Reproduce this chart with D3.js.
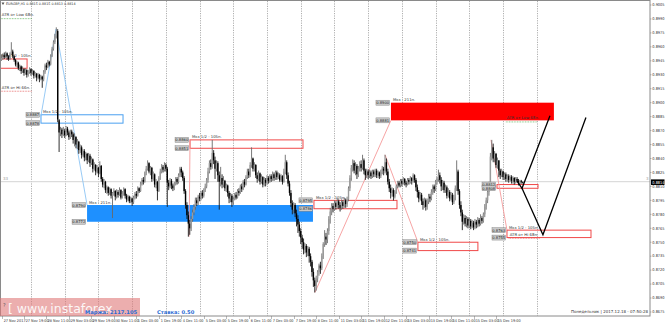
<!DOCTYPE html>
<html><head><meta charset="utf-8">
<script src="https://cdn.jsdelivr.net/npm/d3@7"></script>
<style>html,body{margin:0;padding:0;background:#fff;overflow:hidden}svg{display:block}</style>
</head><body><svg id="c" width="665" height="324"></svg>
<script>
const firstOpen = 0.8946;
const closes = [
0.8948,0.8951,0.8949,0.8953,0.8950,0.8947,0.8952,0.8955,0.8950,0.8946,
0.8941,0.8943,0.8937,0.8939,0.8934,0.8936,0.8932,0.8935,0.8930,0.8933,
0.8936,0.8932,0.8934,0.8929,0.8931,0.8927,0.8930,0.8926,0.8928,0.8925,
0.8933,0.8940,0.8938,0.8944,0.8941,0.8950,0.8958,0.8965,0.8972,0.8977,
0.8882,0.8868,
0.8871,0.8866,0.8870,0.8865,0.8872,0.8868,0.8863,0.8869,0.8866,0.8860,
0.8863,0.8855,0.8858,0.8849,0.8852,0.8844,0.8848,0.8841,0.8845,0.8838,
0.8843,0.8835,0.8839,0.8829,0.8833,0.8826,0.8830,0.8824,0.8832,0.8818,
0.8812,0.8815,0.8806,0.8809,0.8803,0.8807,0.8800,0.8803,0.8805,0.8799,
0.8804,0.8801,0.8806,0.8798,0.8802,0.8807,0.8800,0.8796,0.8799,0.8794,0.8797,0.8793,
0.8798,0.8802,0.8800,0.8808,0.8805,0.8813,0.8817,0.8815,0.8824,0.8829,0.8835,
0.8826,0.8830,0.8818,0.8823,0.8812,0.8815,0.8805,
0.8819,0.8826,0.8831,0.8828,0.8833,0.8829,
0.8814,
0.8810,0.8816,0.8811,0.8808,0.8813,0.8818,0.8815,0.8822,0.8829,
0.8825,0.8819,0.8805,0.8790,0.8779,0.8770,0.8765,
0.8775,0.8782,0.8788,0.8795,0.8792,0.8799,0.8797,0.8803,0.8800,0.8806,0.8810,0.8817,
0.8826,0.8835,0.8831,0.8846,
0.8838,0.8829,0.8835,0.8822,0.8815,0.8819,0.8812,0.8816,
0.8808,0.8811,0.8803,0.8797,0.8800,0.8793,0.8796,
0.8801,0.8798,0.8805,0.8803,0.8810,0.8807,0.8815,0.8812,0.8820,0.8826,0.8822,0.8833,0.8840,
0.8829,0.8833,0.8822,0.8818,0.8824,0.8815,0.8820,0.8812,0.8817,0.8814,0.8819,
0.8816,0.8821,0.8818,0.8823,0.8819,0.8825,0.8820,0.8822,0.8817,0.8821,0.8815,0.8826,0.8836,
0.8822,0.8813,0.8803,0.8792,0.8785,0.8790,0.8781,0.8775,0.8769,0.8762,
0.8755,0.8750,0.8742,0.8746,0.8739,0.8743,0.8735,0.8729,0.8718,0.8709,0.8703,
0.8711,0.8718,0.8725,0.8722,0.8735,0.8748,0.8756,0.8753,0.8762,0.8775,0.8783,
0.8789,0.8786,0.8792,0.8788,0.8794,0.8790,0.8787,0.8793,0.8789,0.8795,0.8791,0.8796,
0.8808,0.8819,0.8830,0.8835,
0.8827,0.8832,0.8823,0.8829,0.8834,0.8830,0.8838,0.8827,0.8822,0.8826,
0.8822,0.8825,0.8821,0.8826,0.8823,0.8827,0.8822,0.8825,0.8821,0.8826,0.8829,0.8827,0.8836,
0.8826,0.8815,0.8808,0.8803,0.8806,0.8799,0.8804,0.8810,
0.8814,0.8811,0.8816,0.8813,0.8818,0.8814,0.8812,0.8817,0.8815,0.8819,0.8816,0.8822,
0.8817,0.8809,0.8804,0.8797,0.8801,0.8794,0.8790,0.8795,0.8788,
0.8794,0.8799,0.8797,0.8804,0.8810,0.8807,0.8815,0.8818,0.8822,0.8817,
0.8810,0.8814,0.8806,0.8809,0.8800,0.8804,0.8797,0.8801,0.8793,0.8798,0.8808,0.8826,
0.8805,0.8790,0.8782,0.8772,0.8776,0.8770,0.8775,0.8768,0.8773,0.8767,0.8771,0.8766,0.8772,0.8769,0.8774,0.8770,0.8776,0.8773,
0.8780,0.8788,0.8795,0.8804,0.8812,
0.8842,0.8852,
0.8840,0.8845,0.8833,0.8838,
0.8827,0.8822,0.8826,0.8820,0.8823,0.8818,0.8821,0.8817,0.8820,0.8816,0.8819,
0.8815,0.8818,0.8816,0.8813,0.8816,0.8815,0.8814];
const highs = [
0.8952,0.8953,0.8954,0.8955,0.8954,0.8951,0.8954,0.8965,0.8957,0.8951,
0.8947,0.8945,0.8944,0.8941,0.8940,0.8939,0.8937,0.8937,0.8936,0.8935,
0.8938,0.8937,0.8936,0.8935,0.8933,0.8932,0.8932,0.8931,0.8930,0.8929,
0.8935,0.8942,0.8943,0.8946,0.8945,0.8952,0.8960,0.8967,0.8974,0.8981,
0.8979,0.8880,
0.8874,0.8873,0.8874,0.8872,0.8875,0.8874,0.8870,0.8871,0.8871,0.8868,
0.8867,0.8864,0.8861,0.8859,0.8855,0.8854,0.8850,0.8850,0.8847,0.8846,
0.8846,0.8845,0.8842,0.8840,0.8836,0.8834,0.8833,0.8831,0.8837,0.8833,
0.8820,0.8818,0.8816,0.8811,0.8810,0.8809,0.8808,0.8804,0.8808,0.8806,
0.8807,0.8806,0.8809,0.8807,0.8805,0.8809,0.8808,0.8802,0.8801,0.8800,0.8799,0.8798,
0.8800,0.8804,0.8805,0.8810,0.8809,0.8815,0.8819,0.8820,0.8826,0.8832,0.8838,
0.8836,0.8832,0.8831,0.8826,0.8824,0.8818,0.8816,
0.8821,0.8829,0.8834,0.8833,0.8836,0.8835,
0.8831,
0.8817,0.8819,0.8818,0.8813,0.8815,0.8820,0.8820,0.8824,0.8831,
0.8831,0.8827,0.8821,0.8807,0.8793,0.8783,0.8774,
0.8778,0.8785,0.8791,0.8798,0.8798,0.8801,0.8803,0.8805,0.8806,0.8808,0.8813,0.8819,
0.8830,0.8838,0.8839,0.8860,
0.8849,0.8842,0.8838,0.8837,0.8826,0.8831,0.8823,0.8821,
0.8817,0.8813,0.8812,0.8805,0.8803,0.8802,0.8799,
0.8803,0.8804,0.8807,0.8808,0.8812,0.8813,0.8817,0.8818,0.8822,0.8829,0.8829,0.8836,0.8852,
0.8841,0.8836,0.8834,0.8825,0.8827,0.8825,0.8823,0.8821,0.8820,0.8819,0.8822,
0.8821,0.8823,0.8823,0.8826,0.8825,0.8827,0.8827,0.8825,0.8824,0.8823,0.8822,0.8829,0.8844,
0.8838,0.8825,0.8816,0.8806,0.8795,0.8793,0.8792,0.8785,0.8779,0.8772,
0.8765,0.8758,0.8754,0.8749,0.8748,0.8746,0.8745,0.8738,0.8731,0.8722,0.8712,
0.8714,0.8720,0.8727,0.8729,0.8738,0.8750,0.8763,0.8760,0.8765,0.8778,0.8787,
0.8792,0.8792,0.8795,0.8794,0.8797,0.8796,0.8793,0.8796,0.8795,0.8798,0.8797,0.8799,
0.8810,0.8822,0.8833,0.8839,
0.8838,0.8836,0.8834,0.8832,0.8837,0.8838,0.8844,0.8840,0.8829,0.8829,
0.8828,0.8828,0.8827,0.8828,0.8828,0.8829,0.8829,0.8827,0.8826,0.8828,0.8832,0.8831,0.8844,
0.8840,0.8829,0.8818,0.8812,0.8809,0.8808,0.8806,0.8812,
0.8816,0.8816,0.8818,0.8818,0.8820,0.8819,0.8816,0.8819,0.8819,0.8821,0.8820,0.8824,
0.8823,0.8819,0.8812,0.8806,0.8804,0.8803,0.8797,0.8798,0.8797,
0.8797,0.8802,0.8802,0.8807,0.8812,0.8812,0.8817,0.8820,0.8828,0.8825,
0.8820,0.8817,0.8816,0.8812,0.8811,0.8808,0.8806,0.8804,0.8803,0.8801,0.8811,0.8838,
0.8828,0.8807,0.8794,0.8785,0.8780,0.8779,0.8778,0.8777,0.8776,0.8775,0.8774,0.8773,0.8775,0.8774,0.8777,0.8776,0.8780,0.8778,
0.8782,0.8791,0.8798,0.8806,0.8815,
0.8846,0.8860,
0.8856,0.8848,0.8846,0.8841,
0.8838,0.8829,0.8829,0.8827,0.8825,0.8825,0.8823,0.8823,0.8822,0.8822,0.8821,
0.8820,0.8820,0.8820,0.8818,0.8817,0.8817,0.8815];
const lows = [
0.8945,0.8946,0.8947,0.8948,0.8946,0.8945,0.8946,0.8951,0.8948,0.8944,
0.8939,0.8938,0.8935,0.8934,0.8931,0.8932,0.8929,0.8930,0.8927,0.8928,
0.8931,0.8929,0.8930,0.8926,0.8927,0.8923,0.8925,0.8922,0.8924,0.8916,
0.8923,0.8931,0.8935,0.8937,0.8939,0.8940,0.8949,0.8956,0.8963,0.8969,
0.8879,0.8847,
0.8864,0.8862,0.8864,0.8862,0.8864,0.8865,0.8860,0.8861,0.8863,0.8856,
0.8853,0.8851,0.8850,0.8845,0.8846,0.8840,0.8842,0.8837,0.8838,0.8834,
0.8836,0.8831,0.8833,0.8825,0.8827,0.8822,0.8824,0.8820,0.8823,0.8815,
0.8809,0.8808,0.8803,0.8802,0.8800,0.8801,0.8797,0.8776,0.8800,0.8795,
0.8797,0.8798,0.8800,0.8796,0.8797,0.8800,0.8797,0.8793,0.8794,0.8792,0.8792,0.8789,
0.8791,0.8796,0.8797,0.8799,0.8803,0.8804,0.8811,0.8812,0.8814,0.8822,0.8827,
0.8824,0.8822,0.8815,0.8816,0.8809,0.8808,0.8795,
0.8804,0.8817,0.8824,0.8825,0.8826,0.8826,
0.8788,
0.8806,0.8808,0.8807,0.8805,0.8806,0.8811,0.8812,0.8813,0.8820,
0.8820,0.8816,0.8802,0.8786,0.8775,0.8756,0.8758,
0.8762,0.8772,0.8779,0.8785,0.8789,0.8790,0.8794,0.8795,0.8797,0.8798,0.8804,0.8808,
0.8814,0.8824,0.8828,0.8829,
0.8834,0.8818,0.8826,0.8815,0.8785,0.8810,0.8808,0.8809,
0.8805,0.8804,0.8799,0.8792,0.8793,0.8788,0.8790,
0.8795,0.8796,0.8797,0.8800,0.8802,0.8804,0.8806,0.8809,0.8811,0.8818,0.8819,0.8820,0.8830,
0.8826,0.8826,0.8819,0.8814,0.8816,0.8812,0.8813,0.8809,0.8810,0.8810,0.8812,
0.8813,0.8814,0.8815,0.8816,0.8816,0.8817,0.8817,0.8818,0.8815,0.8815,0.8812,0.8814,0.8823,
0.8818,0.8810,0.8800,0.8788,0.8780,0.8781,0.8777,0.8767,0.8760,0.8756,
0.8748,0.8743,0.8737,0.8738,0.8734,0.8735,0.8728,0.8724,0.8713,0.8702,0.8696,
0.8698,0.8707,0.8714,0.8716,0.8720,0.8732,0.8745,0.8747,0.8749,0.8758,0.8770,
0.8779,0.8782,0.8784,0.8785,0.8786,0.8786,0.8783,0.8785,0.8786,0.8787,0.8787,0.8788,
0.8794,0.8805,0.8816,0.8826,
0.8824,0.8822,0.8818,0.8820,0.8826,0.8826,0.8828,0.8823,0.8817,0.8819,
0.8818,0.8819,0.8818,0.8819,0.8820,0.8820,0.8819,0.8819,0.8818,0.8819,0.8823,0.8822,0.8824,
0.8822,0.8812,0.8804,0.8797,0.8799,0.8795,0.8797,0.8802,
0.8808,0.8809,0.8809,0.8810,0.8812,0.8811,0.8809,0.8811,0.8812,0.8813,0.8812,0.8814,
0.8814,0.8805,0.8798,0.8793,0.8795,0.8790,0.8785,0.8787,0.8784,
0.8785,0.8791,0.8793,0.8795,0.8801,0.8803,0.8805,0.8812,0.8815,0.8813,
0.8805,0.8806,0.8803,0.8803,0.8797,0.8798,0.8794,0.8795,0.8790,0.8791,0.8795,0.8805,
0.8801,0.8786,0.8778,0.8763,0.8769,0.8767,0.8766,0.8765,0.8765,0.8764,0.8765,0.8763,0.8764,0.8765,0.8766,0.8767,0.8768,0.8770,
0.8771,0.8777,0.8785,0.8792,0.8800,
0.8810,0.8838,
0.8836,0.8836,0.8830,0.8829,
0.8820,0.8818,0.8820,0.8817,0.8817,0.8815,0.8815,0.8814,0.8815,0.8813,0.8813,
0.8812,0.8813,0.8814,0.8811,0.8812,0.8813,0.8813];

const priceTicks = ["0.9005","0.8990","0.8975","0.8960","0.8945","0.8930","0.8915","0.8900","0.8885","0.8870","0.8855","0.8840","0.8825","0.8810","0.8795","0.8780","0.8765","0.8750","0.8735","0.8720","0.8705","0.8690","0.8675"];
const lastPrice = 0.8814;
const dateLabels = ["27 Nov 2017","27 Nov 19:00","28 Nov 11:00","29 Nov 03:00","29 Nov 19:00","30 Nov 11:00","1 Dec 03:00","1 Dec 19:00","4 Dec 11:00","5 Dec 03:00","5 Dec 19:00","6 Dec 11:00","7 Dec 03:00","7 Dec 19:00","8 Dec 11:00","11 Dec 03:00","11 Dec 19:00","12 Dec 11:00","13 Dec 03:00","13 Dec 19:00","14 Dec 11:00","15 Dec 03:00","15 Dec 19:00"];
const labelEvery = 16, gridFirst = 21, gridEvery = 24, gridCount = 16;

// drawn objects (bar index, price)
const boxBars   = [[-1,18.2],[28.1,86.5],[60.9,221.7],[134.2,214.6],[222.4,281.5],[277.2,393.2],[296.4,339.1],[352.7,381.9],[359.8,419.6]];
const boxPrices = [[0.8947,0.8937],[0.8887,0.8878],[0.8790,0.8772],[0.8860,0.8851],[0.8795,0.8786],[0.8900,0.8881],[0.8750,0.8741],[0.8812,0.8808],[0.8763,0.8755]];
const boxKinds  = ["redLine","blueLine","blueFill","redLine","redLine","redFill","redLine","redLine","redLine"];
const boxTexts  = ["Мкз 1/2 - 105п.","Мкз 1/2 - 105п.","Мкз - 211п.","Мкз 1/2 - 105п.","Мкз 1/2 - 105п.","Мкз - 211п.","Мкз 1/2 - 105п.","","Мкз 1/2 - 105п."];
const boxTags   = [false,true,true,true,true,true,true,true,true];
const zigBlue = [[[38.8,0.8979],[28.1,0.8886]],[[38.8,0.8979],[60.9,0.8790]]];
const zigRed  = [[[133.5,0.8756],[134.2,0.8860]],[[223.1,0.8696],[277.2,0.8881]],[[273,0.8844],[296.4,0.8750]],[[348.4,0.8860],[359.8,0.8763]]];
const projection = [[[366.9,0.8816],[370.5,0.8808],[390.4,0.8886]],[[370.5,0.8808],[385.4,0.8758],[416,0.8884]]];
const atrTexts = ["ATR от Low 68п.","ATR от Hi 66п.","ATR от Low 68п.","ATR от Hi 68п."];
const atrAnchors = [[-0.5,0.8993],[-0.5,0.8915],[359,0.8882],[361,0.8757]];
const atrColors = ["green","red","green","red"];

const W=665,H=324, L=1, R=650, T=1, B=316;
const svg = d3.select("#c");
const x = d3.scaleLinear().domain([0,461.6]).range([1.5,650]);
const y = d3.scaleLinear().domain([0.8675,0.9005]).range([312,5]);
const FONT = "'DejaVu Sans', Arial, sans-serif";
const NARROW = "'Liberation Sans Narrow','DejaVu Sans Condensed','Liberation Sans',sans-serif";

svg.append("defs").append("clipPath").attr("id","pc").append("rect").attr("x",L).attr("y",T).attr("width",R-L).attr("height",B-T);
const g = svg.append("g").attr("clip-path","url(#pc)");

// grid verticals
d3.range(gridCount).forEach(k=>{
  const gx = Math.round(x(gridFirst+k*gridEvery))+0.5;
  g.append("line").attr("x1",gx).attr("x2",gx).attr("y1",T).attr("y2",B).attr("stroke","#9a9a9a").attr("stroke-width",0.8).attr("stroke-dasharray","1.2,1.2");
});
// bid line
g.append("line").attr("x1",L).attr("x2",R).attr("y1",y(lastPrice)-1).attr("y2",y(lastPrice)-1).attr("stroke","#d4d4d4").attr("stroke-width",1);

// boxes
boxBars.forEach((bb,k)=>{
  const x0=x(bb[0]), x1=x(bb[1]), y0=y(boxPrices[k][0]), y1=y(boxPrices[k][1]);
  const kind=boxKinds[k];
  const r=g.append("rect").attr("x",x0).attr("y",y0).attr("width",x1-x0).attr("height",y1-y0);
  if(kind==="blueFill") r.attr("fill","#1e90ff");
  else if(kind==="redFill") r.attr("fill","#ff0000");
  else r.attr("fill","none").attr("stroke",kind==="blueLine"?"#4aa0f0":"#f04848").attr("stroke-width",1);
});

// zigzags
const line = d3.line().x(d=>x(d[0])).y(d=>y(d[1]));
zigBlue.forEach(z=>g.append("path").attr("d",line(z)).attr("fill","none").attr("stroke","#8cc4f4").attr("stroke-width",0.9));
zigRed.forEach(z=>g.append("path").attr("d",line(z)).attr("fill","none").attr("stroke","#f59a9a").attr("stroke-width",0.9));

// candles
closes.forEach((c,i)=>{
  const o = i? closes[i-1] : firstOpen;
  const cx = x(i);
  const up = c>=o;
  g.append("line").attr("x1",cx).attr("x2",cx).attr("y1",y(highs[i])).attr("y2",y(lows[i])).attr("stroke",up?"#6a6a6a":"#1a1a1a").attr("stroke-width",0.9);
  const yt=y(Math.max(o,c)), yb=y(Math.min(o,c));
  g.append("rect").attr("x",cx-0.7).attr("y",yt).attr("width",1.4).attr("height",Math.max(0.6,yb-yt)).attr("fill",up?"#9a9a9a":"#000");
});

// projection
projection.forEach(p=>g.append("path").attr("d",line(p)).attr("fill","none").attr("stroke","#000").attr("stroke-width",1.3));

// box texts and tags
boxBars.forEach((bb,k)=>{
  const x0=x(bb[0]), y0=y(boxPrices[k][0]), y1=y(boxPrices[k][1]);
  if(boxTexts[k]) g.append("text").attr("x",x0+2).attr("y",y0-1.5).attr("font-family",FONT).attr("font-size",3.8).attr("fill","#333").text(boxTexts[k]);
  if(boxTags[k]) [boxPrices[k][0],boxPrices[k][1]].forEach((p,j)=>{
    const ty = j? y1 : y0;
    g.append("rect").attr("x",x0-15).attr("y",ty-2.5).attr("width",13.5).attr("height",5).attr("fill","#c9c9c9").attr("stroke","#777").attr("stroke-width",0.4);
    g.append("text").attr("x",x0-8.25).attr("y",ty+1.5).attr("text-anchor","middle").attr("font-family",FONT).attr("font-size",3.7).attr("fill","#222").text(d3.format(".4f")(p));
  });
});

// ATR labels
atrTexts.forEach((t,k)=>{
  const ax=x(atrAnchors[k][0])+1, ay=y(atrAnchors[k][1]);
  g.append("text").attr("x",ax).attr("y",ay).attr("font-family",FONT).attr("font-size",3.9).attr("fill","#333").text(t);
  g.append("line").attr("x1",ax-1).attr("x2",ax+30).attr("y1",ay+2.5).attr("y2",ay+2.5).attr("stroke",atrColors[k]==="green"?"#3aa03a":"#e04040").attr("stroke-width",0.7).attr("stroke-dasharray","0.8,0.8");
});

// small markers
g.append("text").attr("x",3).attr("y",y(lastPrice)-2.5).attr("font-family",FONT).attr("font-size",4).attr("fill","#999").text("33");
g.append("text").attr("x",646).attr("y",y(lastPrice)-2.5).attr("font-family",FONT).attr("font-size",4).attr("fill","#999").text("3");

// frame
svg.append("rect").attr("x",L-0.5).attr("y",T-0.5).attr("width",R-L+0.5).attr("height",B-T+0.5).attr("fill","none").attr("stroke","#8a8a8a").attr("stroke-width",1);

// price axis
priceTicks.forEach(t=>{
  const ty=y(+t);
  svg.append("line").attr("x1",R).attr("x2",R+1.5).attr("y1",ty).attr("y2",ty).attr("stroke","#777").attr("stroke-width",0.5);
  svg.append("text").attr("x",R+2.3).attr("y",ty+1.3).attr("font-family",NARROW).attr("font-size",3.9).attr("fill","#333").text(t);
});
svg.append("rect").attr("x",R+1).attr("y",y(lastPrice)-3.3).attr("width",13.5).attr("height",5.6).attr("fill","#000");
svg.append("text").attr("x",R+2.3).attr("y",y(lastPrice)+1.2).attr("font-family",NARROW).attr("font-size",3.9).attr("fill","#fff").text(d3.format(".4f")(lastPrice));

// date axis
dateLabels.forEach((d,k)=>{
  const tx = Math.round(x(k*labelEvery))+0.5;
  svg.append("line").attr("x1",tx).attr("x2",tx).attr("y1",B).attr("y2",B+3).attr("stroke","#777").attr("stroke-width",0.5);
  svg.append("text").attr("x",tx+1.2).attr("y",B+5.5).attr("font-family",NARROW).attr("font-size",3.8).attr("fill","#333").text(d);
});

// title
svg.append("path").attr("d","M1.5,2.5 L4.5,2.5 L3,5 Z").attr("fill","#555");
svg.append("text").attr("x",6).attr("y",5).attr("font-family",FONT).attr("font-size",3.3).attr("fill","#333").text("EURGBP,H1  0.8815 0.8815 0.8813 0.8814");

// watermark and info
svg.append("rect").attr("x",0).attr("y",298).attr("width",140).attr("height",18).attr("fill","#e07878").attr("opacity",0.6);
svg.append("text").attr("x",3).attr("y",307).attr("font-family",FONT).attr("font-size",5).attr("fill","#555").text("?");
svg.append("text").attr("x",8).attr("y",313).attr("font-family",FONT).attr("font-size",12.5).attr("fill","#fff").attr("opacity",0.9).text("[ www.instaforex");
svg.append("text").attr("x",85).attr("y",314).attr("font-family",FONT).attr("font-size",5.2).attr("font-weight","bold").attr("fill","#2a6ad4").text("Маржа: 2117.105");
svg.append("text").attr("x",157).attr("y",314).attr("font-family",FONT).attr("font-size",5.2).attr("font-weight","bold").attr("fill","#2a6ad4").text("Ставка: 0.50");
svg.append("text").attr("x",648).attr("y",313).attr("text-anchor","end").attr("font-family",FONT).attr("font-size",4).attr("fill","#333").text("Понедельник | 2017.12.18 - 07:50:28");
</script></body></html>
